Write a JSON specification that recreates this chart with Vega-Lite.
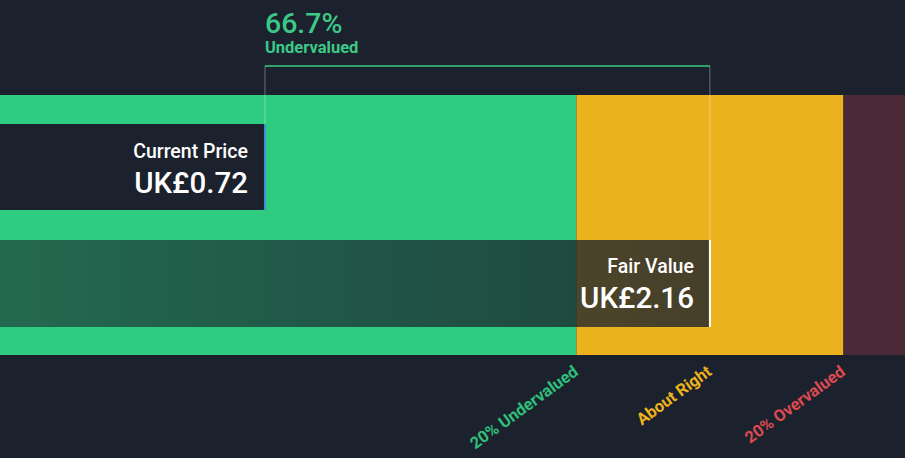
{
  "$schema": "https://vega.github.io/schema/vega-lite/v6.json",
  "width": 905,
  "height": 458,
  "autosize": {"type": "fit", "contains": "padding"},
  "padding": 0,
  "background": "#1b222d",
  "config": {"view": {"stroke": null}, "font": "Roboto"},
  "datasets": {
    "bands": [
      {"zone": "20% Undervalued", "lo": -0.1375, "hi": 1.728},
      {"zone": "About Right", "lo": 1.728, "hi": 2.592},
      {"zone": "20% Overvalued", "lo": 2.592, "hi": 2.7914}
    ],
    "prices": [
      {"name": "Current Price", "value": 0.72, "label": "UK£0.72"},
      {"name": "Fair Value", "value": 2.16, "label": "UK£2.16"}
    ]
  },
  "layer": [
    {
      "data": {"name": "bands"},
      "mark": {"type": "rect"},
      "encoding": {
        "x": {"field": "lo", "type": "quantitative", "scale": {"domain": [-0.1375, 2.7914], "nice": false, "zero": false}, "axis": null},
        "x2": {"field": "hi"},
        "y": {"datum": 95, "type": "quantitative", "scale": {"domain": [0, 458], "reverse": true, "nice": false, "zero": false}, "axis": null},
        "y2": {"datum": 355},
        "fill": {"field": "zone", "type": "nominal", "legend": null,
          "scale": {"domain": ["20% Undervalued", "About Right", "20% Overvalued"], "range": ["#2ecc80", "#edb31e", "#4a2a37"]}}
      }
    },
    {
      "data": {"name": "prices"},
      "transform": [{"filter": "datum.name == 'Current Price'"}],
      "mark": {"type": "rect", "fill": "#1b222d"},
      "encoding": {
        "x": {"field": "value", "type": "quantitative"},
        "x2": {"datum": -0.1375},
        "y": {"datum": 124, "type": "quantitative"},
        "y2": {"datum": 210}
      }
    },
    {
      "data": {"name": "prices"},
      "transform": [{"filter": "datum.name == 'Fair Value'"}],
      "mark": {"type": "rect", "fill": {"gradient": "linear", "x1": 0, "x2": 1, "y1": 0, "y2": 0,
        "stops": [{"offset": 0, "color": "rgba(27,34,45,0.58)"}, {"offset": 0.8, "color": "rgba(27,34,45,0.76)"}, {"offset": 1, "color": "rgba(27,34,45,0.8)"}]}},
      "encoding": {
        "x": {"field": "value", "type": "quantitative"},
        "x2": {"datum": -0.1375},
        "y": {"datum": 240, "type": "quantitative"},
        "y2": {"datum": 327}
      }
    },
    {
      "data": {"name": "prices"},
      "transform": [{"filter": "datum.name == 'Current Price'"}],
      "mark": {"type": "rule", "color": "#3a8fd6", "strokeWidth": 2},
      "encoding": {
        "x": {"field": "value", "type": "quantitative"},
        "y": {"datum": 124, "type": "quantitative"},
        "y2": {"datum": 210}
      }
    },
    {
      "data": {"name": "prices"},
      "transform": [{"filter": "datum.name == 'Fair Value'"}],
      "mark": {"type": "rule", "color": "#ffffff", "strokeWidth": 2},
      "encoding": {
        "x": {"field": "value", "type": "quantitative"},
        "y": {"datum": 240, "type": "quantitative"},
        "y2": {"datum": 327}
      }
    },
    {
      "data": {"name": "prices"},
      "transform": [{"filter": "datum.name == 'Current Price'"}],
      "mark": {"type": "rule", "color": "#ffffff", "opacity": 0.35, "strokeWidth": 1},
      "encoding": {
        "x": {"field": "value", "type": "quantitative"},
        "y": {"datum": 66, "type": "quantitative"},
        "y2": {"datum": 124}
      }
    },
    {
      "data": {"name": "prices"},
      "transform": [{"filter": "datum.name == 'Fair Value'"}],
      "mark": {"type": "rule", "color": "#ffffff", "opacity": 0.35, "strokeWidth": 1},
      "encoding": {
        "x": {"field": "value", "type": "quantitative"},
        "y": {"datum": 66, "type": "quantitative"},
        "y2": {"datum": 240}
      }
    },
    {
      "data": {"values": [{"from": 0.72, "to": 2.16}]},
      "mark": {"type": "rule", "color": "#3cc987", "strokeWidth": 1.5},
      "encoding": {
        "x": {"field": "from", "type": "quantitative"},
        "x2": {"field": "to"},
        "y": {"datum": 66, "type": "quantitative"}
      }
    },
    {
      "data": {"values": [{"x": 0.72, "pct": "66.7%", "word": "Undervalued"}]},
      "mark": {"type": "text", "align": "left", "baseline": "alphabetic", "fontSize": 28.5, "fontWeight": 500, "color": "#3cc987"},
      "encoding": {"x": {"field": "x", "type": "quantitative"}, "y": {"datum": 33, "type": "quantitative"}, "text": {"field": "pct"}}
    },
    {
      "data": {"values": [{"x": 0.72, "pct": "66.7%", "word": "Undervalued"}]},
      "mark": {"type": "text", "align": "left", "baseline": "alphabetic", "fontSize": 16.5, "fontWeight": "bold", "color": "#3cc987"},
      "encoding": {"x": {"field": "x", "type": "quantitative"}, "y": {"datum": 53, "type": "quantitative"}, "text": {"field": "word"}}
    },
    {
      "data": {"name": "prices"},
      "transform": [{"filter": "datum.name == 'Current Price'"}],
      "mark": {"type": "text", "align": "right", "baseline": "alphabetic", "fontSize": 19.5, "fontWeight": 500, "color": "#ffffff", "dx": -17},
      "encoding": {"x": {"field": "value", "type": "quantitative"}, "y": {"datum": 158, "type": "quantitative"}, "text": {"field": "name"}}
    },
    {
      "data": {"name": "prices"},
      "transform": [{"filter": "datum.name == 'Current Price'"}],
      "mark": {"type": "text", "align": "right", "baseline": "alphabetic", "fontSize": 29.5, "fontWeight": 500, "color": "#ffffff", "dx": -17},
      "encoding": {"x": {"field": "value", "type": "quantitative"}, "y": {"datum": 193, "type": "quantitative"}, "text": {"field": "label"}}
    },
    {
      "data": {"name": "prices"},
      "transform": [{"filter": "datum.name == 'Fair Value'"}],
      "mark": {"type": "text", "align": "right", "baseline": "alphabetic", "fontSize": 19.5, "fontWeight": 500, "color": "#ffffff", "dx": -16},
      "encoding": {"x": {"field": "value", "type": "quantitative"}, "y": {"datum": 273, "type": "quantitative"}, "text": {"field": "name"}}
    },
    {
      "data": {"name": "prices"},
      "transform": [{"filter": "datum.name == 'Fair Value'"}],
      "mark": {"type": "text", "align": "right", "baseline": "alphabetic", "fontSize": 29.5, "fontWeight": 500, "color": "#ffffff", "dx": -16},
      "encoding": {"x": {"field": "value", "type": "quantitative"}, "y": {"datum": 308, "type": "quantitative"}, "text": {"field": "label"}}
    },
    {
      "data": {"values": [
        {"label": "20% Undervalued", "x": 1.728},
        {"label": "About Right", "x": 2.16},
        {"label": "20% Overvalued", "x": 2.592}
      ]},
      "mark": {"type": "text", "align": "right", "baseline": "top", "angle": -36, "fontSize": 16.5, "fontWeight": "bold", "dx": -6, "dy": 0},
      "encoding": {
        "x": {"field": "x", "type": "quantitative"},
        "y": {"datum": 360, "type": "quantitative"},
        "text": {"field": "label"},
        "color": {"field": "label", "type": "nominal", "legend": null,
          "scale": {"domain": ["20% Undervalued", "About Right", "20% Overvalued"], "range": ["#2fbf7a", "#edb31e", "#de4a50"]}}
      }
    }
  ]
}
